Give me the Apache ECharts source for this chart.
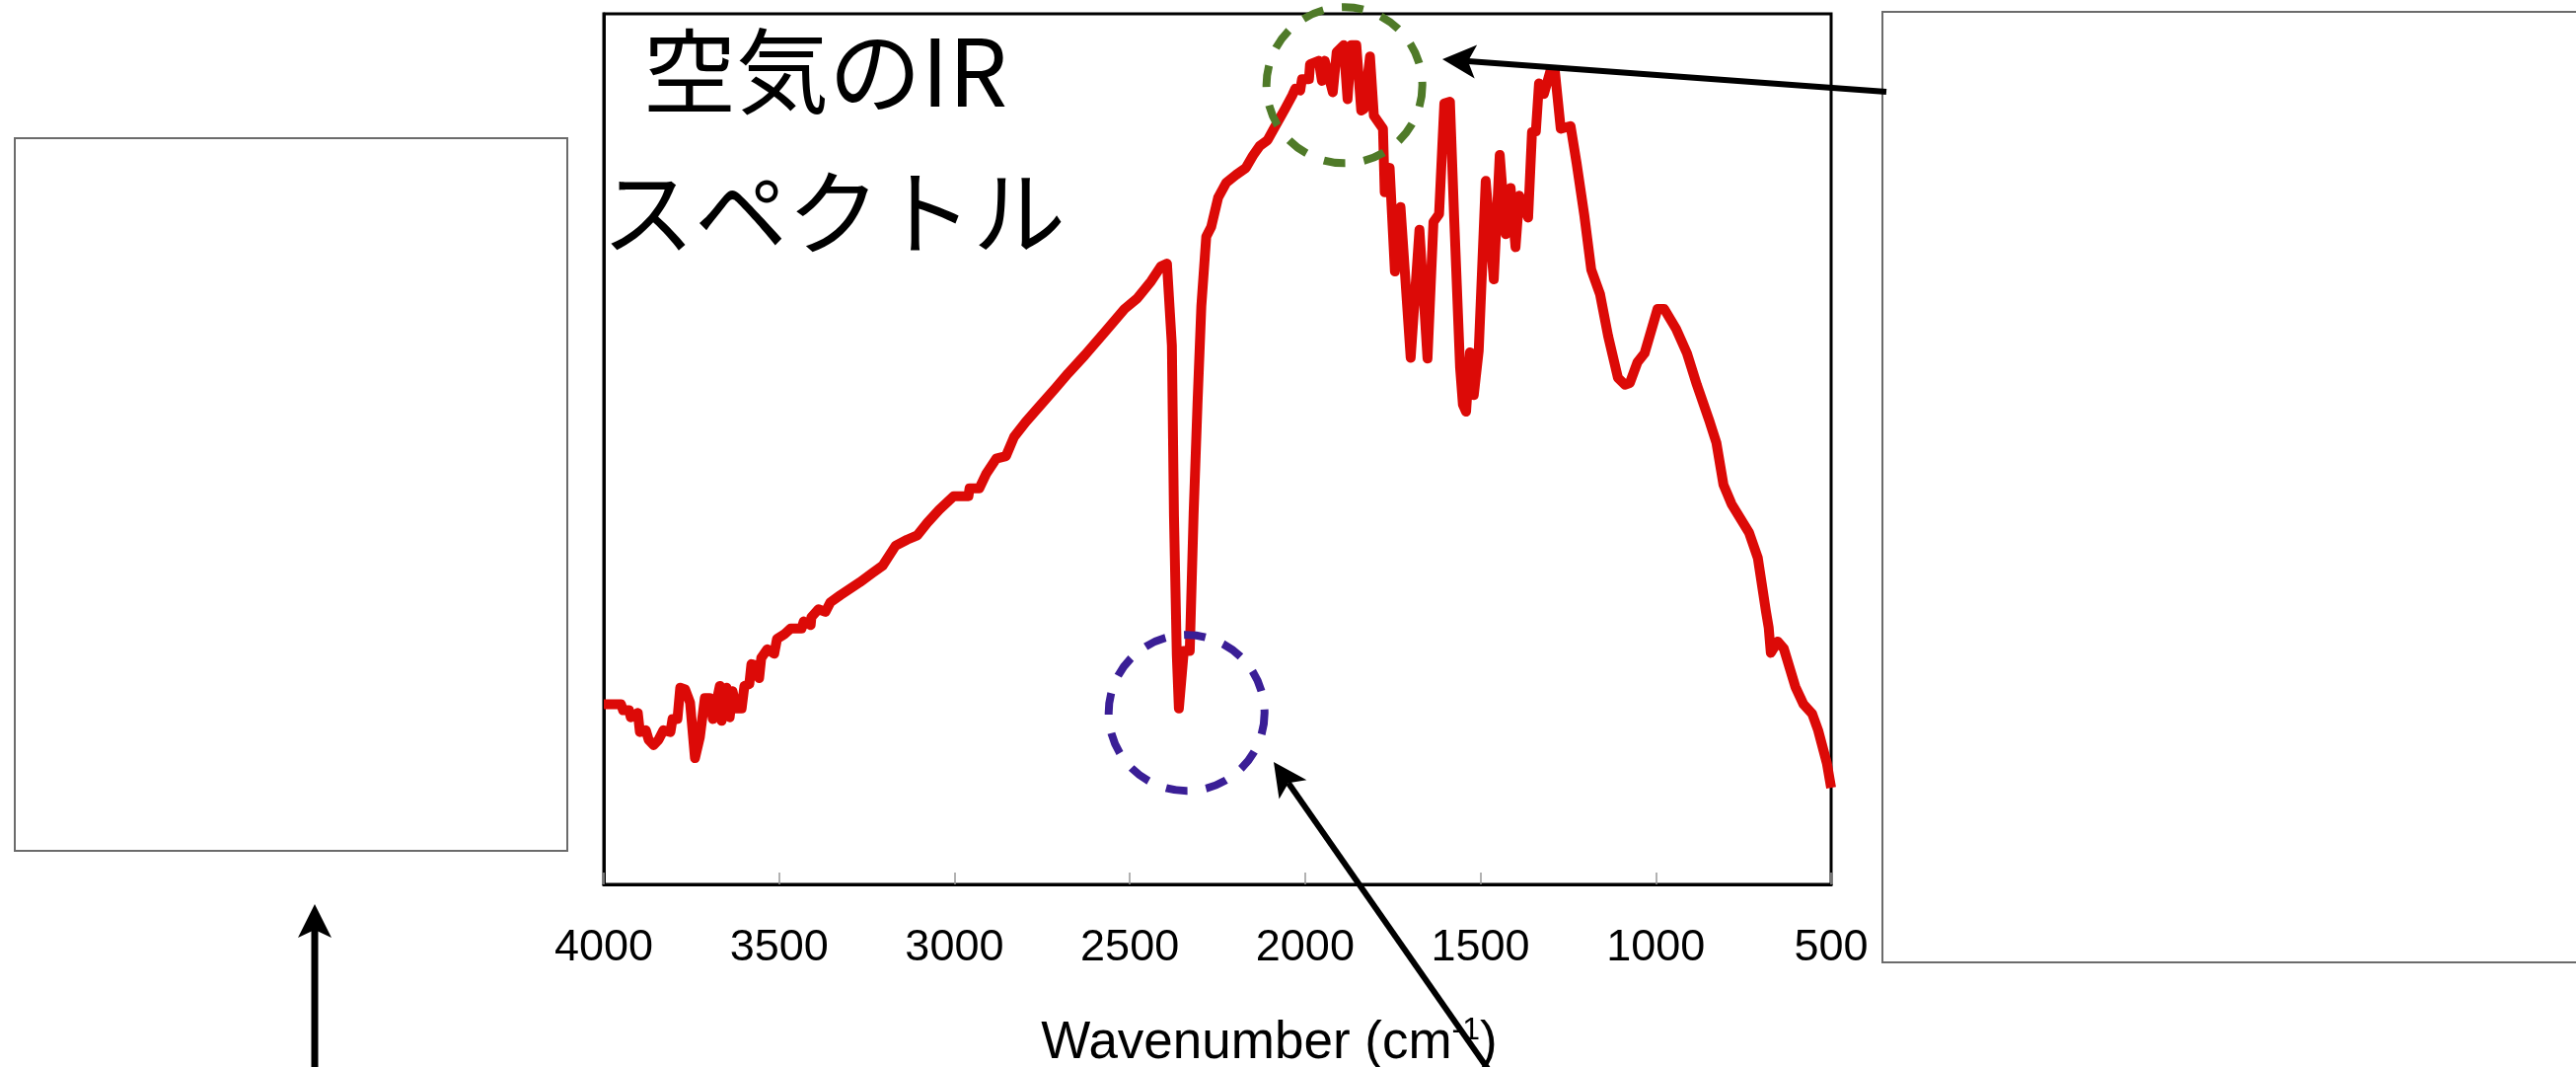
<!DOCTYPE html>
<html><head><meta charset="utf-8">
<script src="https://cdn.jsdelivr.net/npm/echarts@6/dist/echarts.min.js"></script>
<style>html,body{margin:0;padding:0;background:#fff}#c{width:2611px;height:1081px}</style>
</head><body><div id="c"></div>
<script>
// ---- data ----
const wavenumbers = [4000,3951,3945,3928,3923,3903,3897,3880,3872,3858,3844,3830,3810,3804,3790,3782,3768,3754,3740,3726,3712,3698,3689,3669,3664,3650,3641,3633,3621,3607,3599,3585,3579,3562,3557,3551,3534,3514,3506,3486,3467,3436,3430,3410,3408,3388,3368,3354,3326,3270,3233,3205,3168,3135,3106,3078,3044,3002,2960,2957,2929,2909,2881,2853,2830,2797,2760,2712,2676,2628,2572,2515,2479,2439,2411,2394,2380,2374,2366,2360,2346,2329,2318,2307,2296,2282,2268,2248,2225,2197,2169,2149,2130,2107,2085,2057,2037,2028,2014,2009,1989,1986,1961,1952,1944,1921,1910,1890,1879,1868,1854,1840,1832,1815,1804,1778,1773,1759,1744,1728,1699,1674,1651,1634,1618,1603,1587,1575,1558,1550,1541,1530,1519,1505,1485,1462,1445,1428,1414,1400,1389,1364,1353,1342,1333,1319,1300,1288,1271,1243,1226,1204,1184,1159,1136,1108,1088,1074,1052,1032,995,976,942,911,883,846,827,807,784,734,709,686,678,672,652,635,602,579,554,537,512,500];
const transmittance = [20.7,20.7,20.0,20.0,19.2,19.7,17.5,17.7,16.6,16.0,16.6,17.7,17.5,19.0,19.0,22.6,22.4,20.9,14.5,16.9,21.4,21.4,19.0,22.8,18.8,22.6,19.2,22.2,20.2,20.2,22.8,23.0,25.3,25.1,23.7,26.0,27.0,26.5,28.2,28.7,29.4,29.4,30.2,29.8,30.7,31.6,31.3,32.4,33.2,34.7,35.8,36.6,38.9,39.6,40.1,41.5,43.0,44.6,44.6,45.5,45.5,47.2,48.9,49.2,51.4,53.1,54.8,57.0,58.7,60.8,63.4,66.1,67.3,69.3,71.0,71.3,61.9,42.3,26.4,20.2,26.8,26.8,42.6,55.1,66.4,74.4,75.5,78.9,80.6,81.5,82.3,83.7,84.8,85.5,87.1,89.1,90.6,91.4,91.2,92.5,92.5,94.2,94.6,92.3,94.6,91.0,95.6,96.4,90.2,96.4,96.4,88.9,89.1,95.1,88.3,86.8,79.5,82.3,70.4,77.8,60.5,75.2,60.4,76.1,77.0,89.7,89.9,76.6,59.3,55.1,54.3,61.1,56.2,61.3,80.8,69.5,83.8,74.7,80.0,73.2,79.1,76.6,86.4,86.5,92.0,90.8,93.5,93.5,86.8,87.1,82.9,76.9,70.6,67.8,63.0,58.2,57.4,57.6,60.0,61.0,66.1,66.1,63.8,61.0,57.4,53.1,50.7,45.9,43.7,40.4,37.5,31.4,29.5,26.6,27.9,27.1,22.7,20.7,19.6,17.7,13.9,11.1];
const xTickValues = [4000,3500,3000,2500,2000,1500,1000,500];
const titleLines = ['空気のIR', 'スペクトル'];
const axisTitleMain = 'Wavenumber (cm';
const axisTitleSup = '-1';
const h2oMarkCenter = [1888, 91.8];
const co2MarkCenter = [2338, 19.7];

// ---- chart ----
const chart = echarts.init(document.getElementById('c'), null, {renderer: 'canvas'});
const seriesData = wavenumbers.map((w, i) => [w, transmittance[i]]);

chart.setOption({
  animation: false,
  backgroundColor: '#fff',
  grid: {left: 612, right: 755, top: 14, bottom: 185, containLabel: false, outerBoundsMode: 'none',
         show: true, borderColor: '#000', borderWidth: 3, backgroundColor: 'transparent'},
  xAxis: {
    type: 'value', inverse: true,
    min: xTickValues[xTickValues.length - 1], max: xTickValues[0], interval: 500,
    axisLine: {show: true, lineStyle: {color: '#000', width: 3}},
    axisTick: {show: true, inside: true, length: 12, lineStyle: {color: '#999', width: 1.5}},
    splitLine: {show: false},
    axisLabel: {fontFamily: 'Liberation Sans', fontSize: 45, color: '#000', margin: 42,
      formatter: v => xTickValues.includes(v) ? String(v) : ''},
    name: '{a|' + axisTitleMain + '}{s|' + axisTitleSup + '}{a|)}',
    nameLocation: 'middle', nameGap: 132,
    nameTextStyle: {padding: [0, 0, 0, 105],
      rich: {a: {fontFamily: 'Liberation Sans', fontSize: 53, color: '#000', lineHeight: 58},
             s: {fontFamily: 'Liberation Sans', fontSize: 32, color: '#000', verticalAlign: 'top', lineHeight: 58}}}
  },
  yAxis: {
    type: 'value', min: 0, max: 100,
    axisLine: {show: true, lineStyle: {color: '#000', width: 3}},
    axisTick: {show: false}, axisLabel: {show: false}, splitLine: {show: false}
  },
  series: [{
    type: 'line', data: seriesData, showSymbol: false, symbol: 'none',
    lineStyle: {color: '#dc0a07', width: 10, join: 'round', cap: 'butt'},
    clip: true
  }]
});

function arrow(tail, tip, w, id) {
  const dx = tip[0] - tail[0], dy = tip[1] - tail[1];
  const len = Math.hypot(dx, dy);
  const ux = dx / len, uy = dy / len, nx = -uy, ny = ux;
  const L = 34, W = 17, notch = 26;
  const back = [tip[0] - ux * notch, tip[1] - uy * notch];
  return [
    {type: 'line', id: id + 'l', shape: {x1: tail[0], y1: tail[1], x2: back[0], y2: back[1]}, style: {stroke: '#000', lineWidth: w}, z: 100},
    {type: 'polygon', id: id + 'h', shape: {points: [
      tip,
      [tip[0] - ux * L + nx * W, tip[1] - uy * L + ny * W],
      back,
      [tip[0] - ux * L - nx * W, tip[1] - uy * L - ny * W]
    ]}, style: {fill: '#000'}, z: 100}
  ];
}

const gC = chart.convertToPixel({gridIndex: 0}, h2oMarkCenter);
const bC = chart.convertToPixel({gridIndex: 0}, co2MarkCenter);

const graphics = [
  {type: 'rect', id: 'boxL', shape: {x: 15, y: 140, width: 560, height: 722}, style: {fill: 'none', stroke: '#6b6b6b', lineWidth: 2}},
  {type: 'rect', id: 'boxR', shape: {x: 1908, y: 12, width: 740, height: 963}, style: {fill: 'none', stroke: '#6b6b6b', lineWidth: 2}},
  {type: 'text', id: 't1', x: 652, y: 72, style: {text: titleLines[0], font: '94px "Noto Sans CJK JP"', fill: '#000', textVerticalAlign: 'middle', textAlign: 'left'}, z: 50},
  {type: 'text', id: 't2', x: 610, y: 215, style: {text: titleLines[1], font: '94px "Noto Sans CJK JP"', fill: '#000', textVerticalAlign: 'middle', textAlign: 'left'}, z: 50},
  {type: 'circle', id: 'cg', shape: {cx: gC[0], cy: gC[1], r: 79}, style: {fill: 'none', stroke: '#4f7a28', lineWidth: 8, lineDash: [22, 19]}, z: 60},
  {type: 'circle', id: 'cb', shape: {cx: bC[0], cy: bC[1], r: 79}, style: {fill: 'none', stroke: '#3a1e96', lineWidth: 8, lineDash: [22, 19]}, z: 60}
].concat(
  arrow([1912, 93], [1462, 60], 6, 'a1'),
  arrow([1541, 1130], [1291, 772], 6, 'a2'),
  arrow([319, 1100], [319, 916], 7, 'a3')
);

chart.setOption({graphic: graphics});
</script>
</body></html>
